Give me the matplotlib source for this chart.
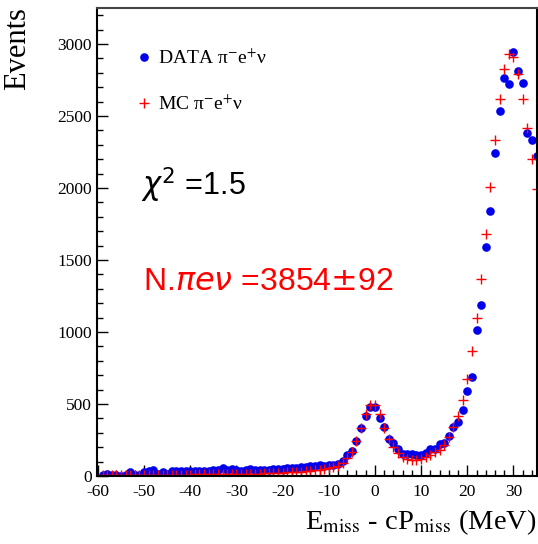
import numpy as np
import matplotlib
matplotlib.use("Agg")
import matplotlib.pyplot as plt
from matplotlib.ticker import MultipleLocator

# bin centres (MeV)
x_bins = list(range(-59, 36))

data_counts = [8, 12, 6, 4, 2, 5, 30, 8, 10, 28,
               33, 40, 12, 30, 15, 32, 35, 34, 36, 33,
               35, 36, 34, 38, 45, 42, 55, 45, 48, 40,
               38, 42, 50, 40, 42, 45, 42, 48, 52, 50,
               55, 58, 55, 60, 65, 68, 70, 78, 72, 76,
               78, 82, 105, 148, 175, 243, 331, 417, 476, 481,
               400, 338, 257, 227, 190, 150, 155, 153, 145, 143,
               160, 190, 185, 224, 228, 280, 340, 375, 458, 593,
               688, 1014, 1185, 1588, 1840, 2241, 2537, 2764, 2724, 2947,
               2812, 2731, 2382, 2333, 2222]

mc_counts = [4, 4, 5, 5, 5, 6, 6, 6, 7, 7,
             7, 8, 8, 8, 9, 9, 9, 10, 10, 10,
             11, 11, 11, 12, 12, 12, 13, 13, 13, 14,
             14, 15, 15, 16, 16, 18, 20, 22, 22, 24,
             25, 27, 28, 30, 33, 36, 40, 43, 48, 55,
             60, 72, 88, 123, 169, 245, 336, 431, 495, 490,
             430, 335, 258, 199, 158, 132, 118, 112, 112, 120,
             135, 148, 165, 178, 215, 268, 340, 417, 525, 676,
             868, 1097, 1366, 1681, 2008, 2333, 2620, 2824, 2928, 2907,
             2794, 2618, 2414, 2204, 1995]

x_ticks = [-60, -50, -40, -30, -20, -10, 0, 10, 20, 30]
y_ticks = [0, 500, 1000, 1500, 2000, 2500, 3000]

plt.rcParams['font.family'] = ['Liberation Serif', 'DejaVu Serif']
plt.rcParams['mathtext.fontset'] = 'stix'
plt.rcParams['axes.unicode_minus'] = False

fig = plt.figure(figsize=(5.38, 5.44), dpi=100)
ax = fig.add_axes([97/538, 1 - 476/544, 440/538, 468/544])

ax.plot(x_bins, data_counts, 'o', color='#0000ee', markersize=6.2,
        markeredgewidth=0, label='DATA π$^{\\text{-}}$e$^{+}$ν'.replace('\\text{-}', '-'))
ax.plot(x_bins, mc_counts, '+', color='#ff0000', markersize=7,
        markeredgewidth=1.0, label='MC π$^{-}$e$^{+}$ν')

ax.set_xlim(-60.2, 35.1)
ax.set_ylim(0, 3250)
ax.set_xticks(x_ticks)
ax.set_yticks(y_ticks)
ax.xaxis.set_minor_locator(MultipleLocator(2))
ax.yaxis.set_minor_locator(MultipleLocator(100))
ax.tick_params(which='both', direction='in', top=False, right=False,
               labelsize=12.5, width=1.0)
ax.tick_params(which='major', length=8)
ax.tick_params(which='minor', length=4)
ax.tick_params(axis='x', pad=6)
for s in ax.spines.values():
    s.set_linewidth(1.5)
ax.spines['top'].set_color('#444444')

leg = ax.legend(loc='upper left', bbox_to_anchor=(0.075, 0.93), frameon=False,
                fontsize=14, handlelength=0.6, handletextpad=0.45,
                labelspacing=1.35, borderaxespad=0)

ax.text(0.100, 0.622, r'$\chi^2$ =1.5', transform=ax.transAxes,
        fontsize=22, va='center', ha='left', family='Liberation Sans',
        math_fontfamily='dejavusans')
ax.text(0.105, 0.415, r'N.$\pi e \nu$ =3854$\pm$92', transform=ax.transAxes,
        fontsize=23, va='center', ha='left', color='#ff0000',
        family='Liberation Sans', math_fontfamily='dejavusans')

fig.text(18/538, 1 - 49/544, 'Events', rotation=90, fontsize=22,
         ha='center', va='center')
fig.text(536/538, 1 - 529/544, r'E$_{\rm miss}$ - cP$_{\rm miss}$ (MeV)',
         fontsize=20.5, ha='right', va='baseline')

fig.savefig('out.png', dpi=100)
